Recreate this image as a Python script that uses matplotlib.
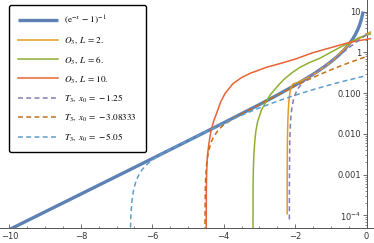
import numpy as np
import matplotlib
matplotlib.use("Agg")
import matplotlib.pyplot as plt
from matplotlib.ticker import FixedLocator, FixedFormatter, NullFormatter, MultipleLocator

plt.rcParams['mathtext.fontset'] = 'stix'
plt.rcParams['font.family'] = ['DejaVu Sans']

# exact curve (e^{-x}-1)^{-1}
blue_x = [-10, -9, -8, -7, -6, -5, -4, -3, -2.5, -2, -1.5, -1.2, -1, -0.8, -0.65, -0.5,
          -0.4, -0.32, -0.25, -0.2, -0.16, -0.13, -0.11, -0.095]
blue_y = [4.54e-05, 0.0001234, 0.0003356, 0.0009127, 0.002485, 0.006784, 0.01866, 0.0524,
          0.08943, 0.1565, 0.2872, 0.431, 0.582, 0.816, 1.092, 1.541, 2.033, 2.652, 3.521,
          4.517, 5.763, 7.203, 8.6, 10.03]

# O3, L = 2.
o2_x = [-2.222, -2.221, -2.218, -2.212, -2.20, -2.185, -2.17, -2.14, -2.10, -2.05, -1.95,
        -1.8, -1.6, -1.4, -1.2, -0.97, -0.69, -0.45, -0.13, 0.11]
o2_y = [1.1e-4, 1e-3, 0.004, 0.01, 0.025, 0.045, 0.07, 0.11, 0.15, 0.17, 0.18,
        0.205, 0.25, 0.32, 0.43, 0.60, 1.06, 1.7, 2.35, 3.14]

# O3, L = 6.
o6_x = [-3.180, -3.177, -3.170, -3.155, -3.13, -3.10, -3.05, -2.94, -2.82, -2.70, -2.5,
        -2.33, -2.1, -1.86, -1.6, -1.3, -1.0, -0.74, -0.45, -0.2, 0.11]
o6_y = [4.8e-5, 5e-4, 1.3e-3, 3e-3, 6.5e-3, 0.0115, 0.02, 0.039, 0.06, 0.09, 0.145,
        0.21, 0.31, 0.43, 0.56, 0.72, 1.0, 1.33, 1.78, 2.3, 2.82]

# O3, L = 10.
o10_x = [-4.490, -4.486, -4.478, -4.46, -4.43, -4.39, -4.34, -4.27, -4.20, -4.08, -3.96,
         -3.73, -3.5, -3.26, -3.0, -2.8, -2.42, -2.0, -1.5, -1.0, -0.45, 0.11]
o10_y = [4.8e-5, 4e-4, 1.1e-3, 2.6e-3, 4.6e-3, 8e-3, 0.0137, 0.022, 0.032, 0.062, 0.099,
         0.174, 0.24, 0.305, 0.37, 0.43, 0.53, 0.68, 0.98, 1.3, 1.78, 2.16]

# T3, x0 = -1.25
t1_x = [-2.1602, -2.1593, -2.150, -2.13, -2.110, -2.09, -2.060, -2.03, -2.0, -1.96, -1.910,
        -1.8, -1.660, -1.360, -1.060, -0.760, -0.460, -0.160, 0.000]
t1_y = [8e-05, 0.000659, 0.00654, 0.0195, 0.0315, 0.0435, 0.0602, 0.0765, 0.0917, 0.1109,
        0.133, 0.1773, 0.228, 0.345, 0.529, 0.847, 1.36, 2.15, 2.7]

# T3, x0 = -3.08333
t3_x = [-4.5258, -4.517, -4.507, -4.477, -4.427, -4.35, -4.277, -4.15, -4.027, -3.727,
        -3.427, -3.127, -2.827, -2.527, -2.227, -1.927, -1.627, -1.327, -1.027, -0.727,
        -0.427, -0.127, 0.000]
t3_y = [3.89e-05, 0.000388, 0.000775, 0.0019, 0.00371, 0.0063, 0.00868, 0.0124, 0.0159,
        0.0241, 0.0335, 0.0459, 0.0629, 0.0864, 0.118, 0.16, 0.214, 0.281, 0.363, 0.463,
        0.581, 0.72, 0.785]

# T3, x0 = -5.05
t5_x = [-6.6197, -6.6127, -6.5977, -6.5727, -6.5227, -6.4527, -6.3727, -6.2727, -6.1227,
        -5.9227, -5.6727, -5.3727, -5.0727, -4.7727, -4.4727, -4.1727, -3.8727, -3.5727,
        -3.2727, -2.9727, -2.6727, -2.3727, -2.0727, -1.7727, -1.4727, -1.1727, -0.8727,
        -0.5727, -0.2727, 0.0000]
t5_y = [1.346e-05, 4.472e-05, 0.000111, 0.0002197, 0.0004301, 0.0007108, 0.001014,
        0.001373, 0.001882, 0.002542, 0.003412, 0.00466, 0.006305, 0.008528, 0.01151,
        0.01544, 0.02049, 0.02684, 0.03469, 0.0442, 0.05557, 0.06898, 0.0846, 0.1026,
        0.1232, 0.1466, 0.1729, 0.2023, 0.2351, 0.2679]

labels = [r'$(\mathrm{e}^{-x}\,-\,1)^{-1}$', r'$O_3,\;L\,=\,2.$', r'$O_3,\;L\,=\,6.$',
          r'$O_3,\;L\,=\,10.$', r'$T_3,\;x_0\,=\,-1.25$', r'$T_3,\;x_0\,=\,-3.08333$',
          r'$T_3,\;x_0\,=\,-5.05$']
colors = ['#5E81B5', '#E19C24', '#8FB032', '#EB6235', '#8778B3', '#C56E1A', '#5D9EC7']

xticks = [-10, -8, -6, -4, -2, 0]
xticklabels = ['\u221210', '\u22128', '\u22126', '\u22124', '\u22122', '0']
yticks = [1e-4, 1e-3, 1e-2, 1e-1, 1, 10]
yticklabels = [r'$\mathregular{10^{-4}}$', '0.001', '0.010', '0.100', '1', '10']

fig = plt.figure(figsize=(3.74, 2.43), dpi=100)
ax = fig.add_axes([0, 0.0605, 1, 0.9395])
ax.set_yscale('log')
ax.set_xlim(-10.266, 0.21)
ax.set_ylim(10**-4.314, 10**1.282)

series = [(blue_x, blue_y), (o2_x, o2_y), (o6_x, o6_y), (o10_x, o10_y),
          (t1_x, t1_y), (t3_x, t3_y), (t5_x, t5_y)]
for i, ((xs, ys), lab, col) in enumerate(zip(series, labels, colors)):
    if i == 0:
        ax.plot(xs, ys, color=col, lw=2.4, label=lab, solid_capstyle='butt', zorder=2)
    elif i < 4:
        ax.plot(xs, ys, color=col, lw=1.1, label=lab, zorder=3)
    else:
        ax.plot(xs, ys, color=col, lw=1.1, label=lab, dashes=(3.2, 2.2), zorder=3)

axc = '#555555'
for s in ['top', 'right']:
    ax.spines[s].set_visible(False)
ax.spines['left'].set_position(('data', 0))
ax.spines['left'].set_color(axc)
ax.spines['bottom'].set_color(axc)
ax.spines['left'].set_linewidth(0.7)
ax.spines['bottom'].set_linewidth(0.7)

ax.xaxis.set_major_locator(FixedLocator(xticks))
ax.xaxis.set_major_formatter(FixedFormatter(xticklabels))
ax.xaxis.set_minor_locator(MultipleLocator(0.5))
ax.tick_params(axis='x', which='major', direction='in', length=3.0, width=0.6, color=axc,
               labelsize=6, labelcolor='#333333', pad=2.5)
ax.tick_params(axis='x', which='minor', direction='in', length=1.8, width=0.5, color=axc)

ax.yaxis.set_major_locator(FixedLocator(yticks))
ax.yaxis.set_major_formatter(FixedFormatter(yticklabels))
minors = [m * 10.0**e for e in range(-5, 2) for m in range(2, 10)]
ax.yaxis.set_minor_locator(FixedLocator(minors))
ax.yaxis.set_minor_formatter(NullFormatter())
ax.tick_params(axis='y', which='major', direction='out', length=3.0, width=0.6, color=axc,
               labelsize=6, labelcolor='#333333', pad=1.0)
ax.tick_params(axis='y', which='minor', direction='out', length=1.6, width=0.5, color=axc)

leg = ax.legend(loc='upper left', bbox_to_anchor=(0.024, 0.979), fontsize=6.6,
                frameon=True, fancybox=True, handlelength=4.3, handletextpad=0.7,
                labelspacing=0.92, borderpad=1.0, borderaxespad=0.0)
fr = leg.get_frame()
fr.set_edgecolor('black')
fr.set_linewidth(1.0)
fr.set_facecolor('white')
fr.set_alpha(1)
leg.set_zorder(10)

fig.savefig('out.png', dpi=100)
